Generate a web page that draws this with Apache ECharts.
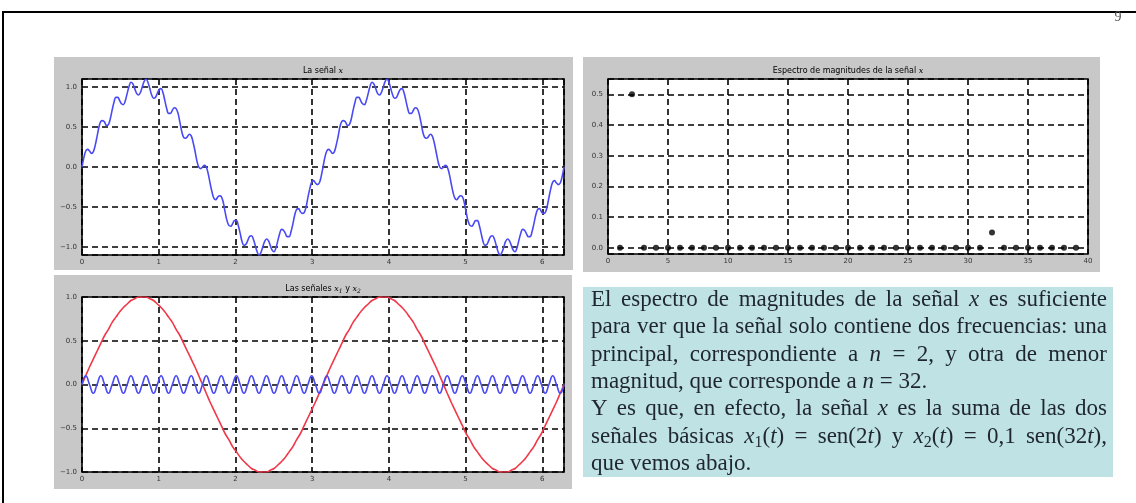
<!DOCTYPE html>
<html>
<head>
<meta charset="utf-8">
<script src="https://cdn.jsdelivr.net/npm/echarts@6/dist/echarts.min.js"></script>
<style>
  html, body { margin: 0; padding: 0; background: #ffffff; }
  #chart { width: 1136px; height: 503px; }
</style>
</head>
<body>
<div id="chart"></div>
<script>
// Fine time grid for x(t): 0 .. 2π, step π/128
const tFine = [
  0.000, 0.025, 0.049, 0.074, 0.098, 0.123, 0.147, 0.172, 0.196, 0.221,
  0.245, 0.270, 0.295, 0.319, 0.344, 0.368, 0.393, 0.417, 0.442, 0.466,
  0.491, 0.515, 0.540, 0.565, 0.589, 0.614, 0.638, 0.663, 0.687, 0.712,
  0.736, 0.761, 0.785, 0.810, 0.834, 0.859, 0.884, 0.908, 0.933, 0.957,
  0.982, 1.006, 1.031, 1.055, 1.080, 1.104, 1.129, 1.154, 1.178, 1.203,
  1.227, 1.252, 1.276, 1.301, 1.325, 1.350, 1.374, 1.399, 1.424, 1.448,
  1.473, 1.497, 1.522, 1.546, 1.571, 1.595, 1.620, 1.644, 1.669, 1.694,
  1.718, 1.743, 1.767, 1.792, 1.816, 1.841, 1.865, 1.890, 1.914, 1.939,
  1.963, 1.988, 2.013, 2.037, 2.062, 2.086, 2.111, 2.135, 2.160, 2.184,
  2.209, 2.233, 2.258, 2.283, 2.307, 2.332, 2.356, 2.381, 2.405, 2.430,
  2.454, 2.479, 2.503, 2.528, 2.553, 2.577, 2.602, 2.626, 2.651, 2.675,
  2.700, 2.724, 2.749, 2.773, 2.798, 2.823, 2.847, 2.872, 2.896, 2.921,
  2.945, 2.970, 2.994, 3.019, 3.043, 3.068, 3.093, 3.117, 3.142, 3.166,
  3.191, 3.215, 3.240, 3.264, 3.289, 3.313, 3.338, 3.362, 3.387, 3.412,
  3.436, 3.461, 3.485, 3.510, 3.534, 3.559, 3.583, 3.608, 3.632, 3.657,
  3.682, 3.706, 3.731, 3.755, 3.780, 3.804, 3.829, 3.853, 3.878, 3.902,
  3.927, 3.952, 3.976, 4.001, 4.025, 4.050, 4.074, 4.099, 4.123, 4.148,
  4.172, 4.197, 4.222, 4.246, 4.271, 4.295, 4.320, 4.344, 4.369, 4.393,
  4.418, 4.442, 4.467, 4.492, 4.516, 4.541, 4.565, 4.590, 4.614, 4.639,
  4.663, 4.688, 4.712, 4.737, 4.761, 4.786, 4.811, 4.835, 4.860, 4.884,
  4.909, 4.933, 4.958, 4.982, 5.007, 5.031, 5.056, 5.081, 5.105, 5.130,
  5.154, 5.179, 5.203, 5.228, 5.252, 5.277, 5.301, 5.326, 5.351, 5.375,
  5.400, 5.424, 5.449, 5.473, 5.498, 5.522, 5.547, 5.571, 5.596, 5.621,
  5.645, 5.670, 5.694, 5.719, 5.743, 5.768, 5.792, 5.817, 5.841, 5.866,
  5.890, 5.915, 5.940, 5.964, 5.989, 6.013, 6.038, 6.062, 6.087, 6.111,
  6.136, 6.160, 6.185, 6.210, 6.234, 6.259, 6.283
];

// Signal x(t) on the fine grid
const signalX = [
  0.00, 0.12, 0.20, 0.22, 0.20, 0.17, 0.19, 0.27, 0.38, 0.50,
  0.57, 0.58, 0.56, 0.52, 0.53, 0.60, 0.71, 0.81, 0.87, 0.87,
  0.83, 0.79, 0.78, 0.83, 0.92, 1.01, 1.06, 1.04, 0.98, 0.92,
  0.90, 0.93, 1.00, 1.07, 1.10, 1.06, 0.98, 0.90, 0.86, 0.87,
  0.92, 0.97, 0.98, 0.93, 0.83, 0.73, 0.67, 0.67, 0.71, 0.74,
  0.73, 0.67, 0.56, 0.44, 0.37, 0.36, 0.38, 0.41, 0.39, 0.31,
  0.20, 0.08, 0.00, -0.02, 0.00, 0.02, 0.00, -0.08, -0.20, -0.31,
  -0.39, -0.41, -0.38, -0.36, -0.37, -0.44, -0.56, -0.67, -0.73, -0.74,
  -0.71, -0.67, -0.67, -0.73, -0.83, -0.93, -0.98, -0.97, -0.92, -0.87,
  -0.86, -0.90, -0.98, -1.06, -1.10, -1.07, -1.00, -0.93, -0.90, -0.92,
  -0.98, -1.04, -1.06, -1.01, -0.92, -0.83, -0.78, -0.79, -0.83, -0.87,
  -0.87, -0.81, -0.71, -0.60, -0.53, -0.52, -0.56, -0.58, -0.57, -0.50,
  -0.38, -0.27, -0.19, -0.17, -0.20, -0.22, -0.20, -0.12, 0.00, 0.12,
  0.20, 0.22, 0.20, 0.17, 0.19, 0.27, 0.38, 0.50, 0.57, 0.58,
  0.56, 0.52, 0.53, 0.60, 0.71, 0.81, 0.87, 0.87, 0.83, 0.79,
  0.78, 0.83, 0.92, 1.01, 1.06, 1.04, 0.98, 0.92, 0.90, 0.93,
  1.00, 1.07, 1.10, 1.06, 0.98, 0.90, 0.86, 0.87, 0.92, 0.97,
  0.98, 0.93, 0.83, 0.73, 0.67, 0.67, 0.71, 0.74, 0.73, 0.67,
  0.56, 0.44, 0.37, 0.36, 0.38, 0.41, 0.39, 0.31, 0.20, 0.08,
  0.00, -0.02, 0.00, 0.02, 0.00, -0.08, -0.20, -0.31, -0.39, -0.41,
  -0.38, -0.36, -0.37, -0.44, -0.56, -0.67, -0.73, -0.74, -0.71, -0.67,
  -0.67, -0.73, -0.83, -0.93, -0.98, -0.97, -0.92, -0.87, -0.86, -0.90,
  -0.98, -1.06, -1.10, -1.07, -1.00, -0.93, -0.90, -0.92, -0.98, -1.04,
  -1.06, -1.01, -0.92, -0.83, -0.78, -0.79, -0.83, -0.87, -0.87, -0.81,
  -0.71, -0.60, -0.53, -0.52, -0.56, -0.58, -0.57, -0.50, -0.38, -0.27,
  -0.19, -0.17, -0.20, -0.22, -0.20, -0.12, 0.00
];

// Time grid for the basic signals: 0 .. 2π, step π/64
const tSamples = [
  0.000, 0.049, 0.098, 0.147, 0.196, 0.245, 0.295, 0.344, 0.393, 0.442,
  0.491, 0.540, 0.589, 0.638, 0.687, 0.736, 0.785, 0.834, 0.884, 0.933,
  0.982, 1.031, 1.080, 1.129, 1.178, 1.227, 1.276, 1.325, 1.374, 1.424,
  1.473, 1.522, 1.571, 1.620, 1.669, 1.718, 1.767, 1.816, 1.865, 1.914,
  1.963, 2.013, 2.062, 2.111, 2.160, 2.209, 2.258, 2.307, 2.356, 2.405,
  2.454, 2.503, 2.553, 2.602, 2.651, 2.700, 2.749, 2.798, 2.847, 2.896,
  2.945, 2.994, 3.043, 3.093, 3.142, 3.191, 3.240, 3.289, 3.338, 3.387,
  3.436, 3.485, 3.534, 3.583, 3.632, 3.682, 3.731, 3.780, 3.829, 3.878,
  3.927, 3.976, 4.025, 4.074, 4.123, 4.172, 4.222, 4.271, 4.320, 4.369,
  4.418, 4.467, 4.516, 4.565, 4.614, 4.663, 4.712, 4.761, 4.811, 4.860,
  4.909, 4.958, 5.007, 5.056, 5.105, 5.154, 5.203, 5.252, 5.301, 5.351,
  5.400, 5.449, 5.498, 5.547, 5.596, 5.645, 5.694, 5.743, 5.792, 5.841,
  5.890, 5.940, 5.989, 6.038, 6.087, 6.136, 6.185, 6.234, 6.283
];

// Basic signal x1(t)
const signalX1 = [
  0.00, 0.10, 0.20, 0.29, 0.38, 0.47, 0.56, 0.63, 0.71, 0.77,
  0.83, 0.88, 0.92, 0.96, 0.98, 1.00, 1.00, 1.00, 0.98, 0.96,
  0.92, 0.88, 0.83, 0.77, 0.71, 0.63, 0.56, 0.47, 0.38, 0.29,
  0.20, 0.10, 0.00, -0.10, -0.20, -0.29, -0.38, -0.47, -0.56, -0.63,
  -0.71, -0.77, -0.83, -0.88, -0.92, -0.96, -0.98, -1.00, -1.00, -1.00,
  -0.98, -0.96, -0.92, -0.88, -0.83, -0.77, -0.71, -0.63, -0.56, -0.47,
  -0.38, -0.29, -0.20, -0.10, 0.00, 0.10, 0.20, 0.29, 0.38, 0.47,
  0.56, 0.63, 0.71, 0.77, 0.83, 0.88, 0.92, 0.96, 0.98, 1.00,
  1.00, 1.00, 0.98, 0.96, 0.92, 0.88, 0.83, 0.77, 0.71, 0.63,
  0.56, 0.47, 0.38, 0.29, 0.20, 0.10, 0.00, -0.10, -0.20, -0.29,
  -0.38, -0.47, -0.56, -0.63, -0.71, -0.77, -0.83, -0.88, -0.92, -0.96,
  -0.98, -1.00, -1.00, -1.00, -0.98, -0.96, -0.92, -0.88, -0.83, -0.77,
  -0.71, -0.63, -0.56, -0.47, -0.38, -0.29, -0.20, -0.10, 0.00
];

// Basic signal x2(t)
const signalX2 = [
  0, 0.1, 0, -0.1, 0, 0.1, 0, -0.1, 0, 0.1,
  0, -0.1, 0, 0.1, 0, -0.1, 0, 0.1, 0, -0.1,
  0, 0.1, 0, -0.1, 0, 0.1, 0, -0.1, 0, 0.1,
  0, -0.1, 0, 0.1, 0, -0.1, 0, 0.1, 0, -0.1,
  0, 0.1, 0, -0.1, 0, 0.1, 0, -0.1, 0, 0.1,
  0, -0.1, 0, 0.1, 0, -0.1, 0, 0.1, 0, -0.1,
  0, 0.1, 0, -0.1, 0, 0.1, 0, -0.1, 0, 0.1,
  0, -0.1, 0, 0.1, 0, -0.1, 0, 0.1, 0, -0.1,
  0, 0.1, 0, -0.1, 0, 0.1, 0, -0.1, 0, 0.1,
  0, -0.1, 0, 0.1, 0, -0.1, 0, 0.1, 0, -0.1,
  0, 0.1, 0, -0.1, 0, 0.1, 0, -0.1, 0, 0.1,
  0, -0.1, 0, 0.1, 0, -0.1, 0, 0.1, 0, -0.1,
  0, 0.1, 0, -0.1, 0, 0.1, 0, -0.1, 0
];

// Magnitude spectrum of x: harmonic index n and |c_n|
const harmonicN = [
  1, 2, 3, 4, 5, 6, 7, 8, 9, 10, 11, 12, 13, 14, 15, 16, 17, 18, 19, 20,
  21, 22, 23, 24, 25, 26, 27, 28, 29, 30, 31, 32, 33, 34, 35, 36, 37, 38, 39
];
const harmonicMag = [
  0, 0.5, 0, 0, 0, 0, 0, 0, 0, 0, 0, 0, 0, 0, 0, 0, 0, 0, 0, 0,
  0, 0, 0, 0, 0, 0, 0, 0, 0, 0, 0, 0.05, 0, 0, 0, 0, 0, 0, 0
];

// Panel titles
const titleSignal = '{r|La señal }{i|x}';
const titleBasics = '{r|Las señales }{i|x}{s|1}{r| y }{i|x}{s|2}';
const titleSpectrum = '{r|Espectro de magnitudes de la señal }{i|x}';

// Explanatory paragraph: *...* = math italic, _d = subscript; true = justified line
const noteLines = [
  ['El espectro de magnitudes de la señal *x* es suficiente', true],
  ['para ver que la señal solo contiene dos frecuencias: una', true],
  ['principal, correspondiente a *n* = 2, y otra de menor', true],
  ['magnitud, que corresponde a *n* = 32.', false],
  ['Y es que, en efecto, la señal *x* es la suma de las dos', true],
  ['señales básicas *x*_1(*t*) = sen(2*t*) y *x*_2(*t*) = 0,1 sen(32*t*),', true],
  ['que vemos abajo.', false]
];

const pairs = (xs, ys) => xs.map((x, i) => [x, ys[i]]);

const DASH = { color: '#000', width: 1.6, type: [6, 4] };
const TICK_FONT = { fontSize: 7, color: '#333', fontFamily: 'DejaVu Sans' };

function fmtNum(v, digits) {
  const s = Math.abs(v).toFixed(digits);
  return (v < -1e-9 ? '\u2212' : '') + s;
}

// step: label spacing; fixed: pass it as the axis interval (min is a multiple of it)
function valueAxis(gridIndex, min, max, step, digits, isX, fixed) {
  const axis = {
    type: 'value',
    gridIndex: gridIndex,
    min: min,
    max: max,
    axisLine: { show: false },
    axisTick: { show: false },
    splitLine: { show: true, lineStyle: DASH },
    axisLabel: Object.assign({}, TICK_FONT, {
      margin: isX ? 4 : 5,
      formatter: function (v) {
        const q = v / step;
        if (Math.abs(q - Math.round(q)) > 1e-6) return '';
        return fmtNum(v, digits);
      }
    })
  };
  if (fixed) axis.interval = step;
  else axis.splitNumber = 5;
  return axis;
}

const gridBase = { show: true, backgroundColor: '#ffffff', borderColor: '#000', borderWidth: 1.6 };

// ---- Paragraph layout (justified, word by word) ----
const NOTE_LEFT = 591, NOTE_RIGHT = 1107, NOTE_TOP = 300, NOTE_STEP = 27.3;
const NOTE_SIZE = 23;
const NOTE_FAMILY = '"Liberation Serif", serif';
const NOTE_COLOR = '#1f2630';
const tokenStyles = {
  r: { fontSize: NOTE_SIZE, fontStyle: 'normal', dy: 0 },
  i: { fontSize: NOTE_SIZE, fontStyle: 'italic', dy: 0 },
  s: { fontSize: Math.round(NOTE_SIZE * 0.7), fontStyle: 'normal', dy: 6 }
};
const measureCtx = document.createElement('canvas').getContext('2d');
function measure(text, kind) {
  const st = tokenStyles[kind];
  measureCtx.font = st.fontStyle + ' ' + st.fontSize + 'px ' + NOTE_FAMILY;
  return measureCtx.measureText(text).width;
}
function tokenize(word) {
  const out = [];
  const re = /\*([^*]+)\*|_(\d)|([^*_]+)/g;
  let m;
  while ((m = re.exec(word)) !== null) {
    if (m[1] !== undefined) out.push({ text: m[1], kind: 'i' });
    else if (m[2] !== undefined) out.push({ text: m[2], kind: 's' });
    else out.push({ text: m[3], kind: 'r' });
  }
  return out.map(t => Object.assign(t, { w: measure(t.text, t.kind) }));
}
const noteElements = [];
noteLines.forEach(([line, justify], li) => {
  const words = line.split(' ').map(tokenize);
  const widths = words.map(ts => ts.reduce((a, t) => a + t.w, 0));
  const total = widths.reduce((a, b) => a + b, 0);
  const gap = justify && words.length > 1
    ? (NOTE_RIGHT - NOTE_LEFT - total) / (words.length - 1)
    : measure(' ', 'r');
  let x = NOTE_LEFT;
  const y = NOTE_TOP + li * NOTE_STEP;
  words.forEach((ts) => {
    ts.forEach(t => {
      const st = tokenStyles[t.kind];
      noteElements.push({
        type: 'text', x: x, y: y + st.dy, z: 20,
        style: {
          text: t.text, fill: NOTE_COLOR, fontSize: st.fontSize,
          fontStyle: st.fontStyle, fontFamily: NOTE_FAMILY,
          align: 'left', verticalAlign: 'middle'
        }
      });
      x += t.w;
    });
    x += gap;
  });
});

const titleRich = {
  r: { fontSize: 8, fontFamily: 'DejaVu Sans', color: '#222' },
  i: { fontSize: 8, fontFamily: 'DejaVu Serif', fontStyle: 'italic', color: '#222' },
  s: { fontSize: 6, fontFamily: 'DejaVu Serif', fontStyle: 'italic', color: '#222', padding: [5, 0, 0, 0] }
};
function titleText(x, y, text) {
  return { type: 'text', x: x, y: y, z: 5,
    style: { text: text, rich: titleRich, align: 'center', verticalAlign: 'middle' } };
}

const chart = echarts.init(document.getElementById('chart'), null, { renderer: 'canvas' });
chart.setOption({
  animation: false,
  backgroundColor: '#ffffff',
  grid: [
    Object.assign({ left: 82, top: 79, width: 482, height: 176 }, gridBase),
    Object.assign({ left: 82, top: 297, width: 482, height: 175 }, gridBase),
    Object.assign({ left: 608, top: 79, width: 480, height: 175 }, gridBase)
  ],
  xAxis: [
    valueAxis(0, 0, 6.283, 1, 0, true, true),
    valueAxis(1, 0, 6.283, 1, 0, true, true),
    valueAxis(2, 0, 40, 5, 0, true, true)
  ],
  yAxis: [
    valueAxis(0, -1.1, 1.1, 0.5, 1, false, false),
    valueAxis(1, -1, 1, 0.5, 1, false, true),
    valueAxis(2, -0.02, 0.55, 0.1, 1, false, false)
  ],
  series: [
    {
      name: 'x', type: 'line', xAxisIndex: 0, yAxisIndex: 0,
      data: pairs(tFine, signalX), smooth: 0.4, showSymbol: false,
      lineStyle: { color: '#4a4af5', width: 1.6 }, z: 5
    },
    {
      name: 'x1', type: 'line', xAxisIndex: 1, yAxisIndex: 1,
      data: pairs(tSamples, signalX1), smooth: 0.5, showSymbol: false,
      lineStyle: { color: '#f03848', width: 1.6 }, z: 5
    },
    {
      name: 'x2', type: 'line', xAxisIndex: 1, yAxisIndex: 1,
      data: pairs(tSamples, signalX2), smooth: 0.5, showSymbol: false,
      lineStyle: { color: '#4a4af5', width: 1.6 }, z: 6
    },
    {
      name: '|c_n|', type: 'scatter', xAxisIndex: 2, yAxisIndex: 2,
      data: pairs(harmonicN, harmonicMag), symbolSize: 6,
      itemStyle: { color: '#000' }, z: 6
    }
  ],
  graphic: [
    // page frame and number
    { type: 'line', z: 30, shape: { x1: 2, y1: 12, x2: 1136, y2: 12 }, style: { stroke: '#000', lineWidth: 2 } },
    { type: 'line', z: 30, shape: { x1: 3, y1: 12, x2: 3, y2: 503 }, style: { stroke: '#000', lineWidth: 2 } },
    { type: 'text', x: 1118, y: 17, z: 30, style: { text: '9', fill: '#555', fontSize: 14, fontFamily: 'Liberation Serif', align: 'center', verticalAlign: 'middle' } },
    // figure backgrounds
    { type: 'rect', z: -10, shape: { x: 54, y: 57, width: 519, height: 213 }, style: { fill: '#c8c8c8' } },
    { type: 'rect', z: -10, shape: { x: 54, y: 275, width: 518, height: 214 }, style: { fill: '#c8c8c8' } },
    { type: 'rect', z: -10, shape: { x: 583, y: 57, width: 517, height: 215 }, style: { fill: '#c8c8c8' } },
    // text box
    { type: 'rect', z: 10, shape: { x: 583, y: 287, width: 530, height: 190 }, style: { fill: '#bfe2e5' } },
    titleText(323, 71, titleSignal),
    titleText(323, 289, titleBasics),
    titleText(848, 71, titleSpectrum)
  ].concat(noteElements)
});
</script>
</body>
</html>
